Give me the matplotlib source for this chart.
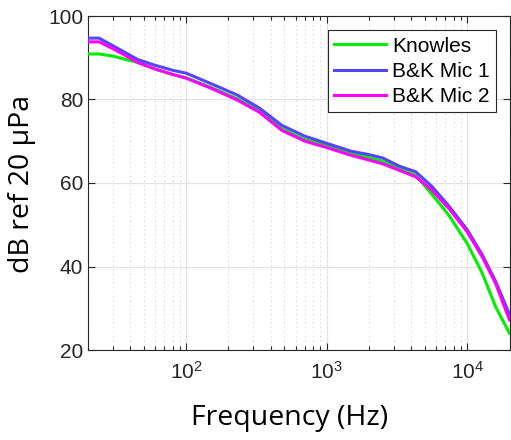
import matplotlib
matplotlib.use("Agg")
import matplotlib.pyplot as plt
from matplotlib.ticker import LogLocator, FixedLocator, NullFormatter

freq = [20, 24, 30, 37, 45, 60, 80, 100, 150, 230, 330, 480, 700, 1000, 1500,
        2000, 2500, 3300, 4300, 5600, 7400, 10000, 12800, 15900, 20000]
knowles = [90.9, 90.9, 90.4, 89.6, 88.9, 87.3, 86.0, 85.2, 82.9, 80.2, 77.3, 73.0,
           70.4, 69.1, 67.2, 66.1, 65.2, 63.4, 61.9, 57.3, 52.3, 45.5, 38.4, 30.4, 24.0]
bk_mic1 = [94.7, 94.7, 92.9, 91.2, 89.6, 88.2, 87.0, 86.3, 83.8, 81.1, 78.0, 73.8,
           71.2, 69.5, 67.6, 66.8, 66.0, 64.0, 62.7, 59.2, 54.5, 48.8, 42.8, 36.5, 28.5]
bk_mic2 = [93.8, 93.8, 92.2, 90.5, 88.9, 87.3, 86.0, 85.1, 82.7, 79.9, 77.0, 72.6,
           70.0, 68.5, 66.6, 65.5, 64.6, 63.0, 61.5, 58.3, 53.9, 48.3, 42.3, 36.0, 27.2]
series_labels = ["Knowles", "B&K Mic 1", "B&K Mic 2"]
yticks = [20, 40, 60, 80, 100]
xticks = [100, 1000, 10000]
xtick_labels = [r"$\mathregular{10^{2}}$", r"$\mathregular{10^{3}}$", r"$\mathregular{10^{4}}$"]

plt.rcParams["font.family"] = ["Liberation Sans", "DejaVu Sans"]
plt.rcParams["mathtext.fontset"] = "custom"
plt.rcParams["mathtext.rm"] = "Liberation Sans"

fig = plt.figure(figsize=(5.11, 4.40), dpi=100)
ax = fig.add_axes([88 / 511, 90 / 440, (509.5 - 88) / 511, (350 - 16) / 440])

ax.plot(freq, knowles, color="#00ee00", lw=2.2, label=series_labels[0], zorder=3)
ax.plot(freq, bk_mic1, color="#5544ff", lw=2.2, label=series_labels[1], zorder=3)
ax.plot(freq, bk_mic2, color="#ff00ff", lw=2.2, label=series_labels[2], zorder=3)

ax.set_xscale("log")
ax.set_xlim(20, 20000)
ax.set_ylim(20, 100)
ax.xaxis.set_major_locator(FixedLocator(xticks))
ax.set_xticklabels(xtick_labels)
ax.xaxis.set_minor_locator(LogLocator(base=10, subs=range(2, 10), numticks=20))
ax.xaxis.set_minor_formatter(NullFormatter())
ax.set_yticks(yticks)

ax.tick_params(axis="both", which="both", direction="in", top=True, right=True,
               labelsize=15, colors="#262626", width=0.8)
ax.tick_params(which="major", length=5)
ax.tick_params(which="minor", length=3)
ax.tick_params(axis="x", pad=8)

ax.grid(True, which="major", color="#e3e3e3", lw=0.9, ls="-")
ax.grid(True, which="minor", axis="x", color="#cfcfcf", lw=0.8, ls=(0, (1, 3)))
ax.set_axisbelow(True)
for s in ax.spines.values():
    s.set_color("#262626")
    s.set_linewidth(0.8)

ax.set_xlabel("Frequency (Hz)", family=["Open Sans", "DejaVu Sans"], fontsize=20.5)
ax.set_ylabel("dB ref 20 μPa", family=["Open Sans", "DejaVu Sans"], fontsize=20.5)
ax.xaxis.set_label_coords((290 - 88) / 421.5, -(404 - 350) / 334)
ax.yaxis.set_label_coords(-(88 - 36) / 421.5, (350 - 184) / 334)

leg = ax.legend(loc="upper right", bbox_to_anchor=((496 - 88) / 421.5, (350 - 30.5) / 334),
                fontsize=15, frameon=True, fancybox=False, edgecolor="#262626",
                handlelength=2.5, handletextpad=0.3, labelspacing=0.3,
                borderpad=0.3, borderaxespad=0.0)
leg.get_frame().set_linewidth(0.8)
leg.get_frame().set_alpha(1)

fig.savefig("out.png", dpi=100)
